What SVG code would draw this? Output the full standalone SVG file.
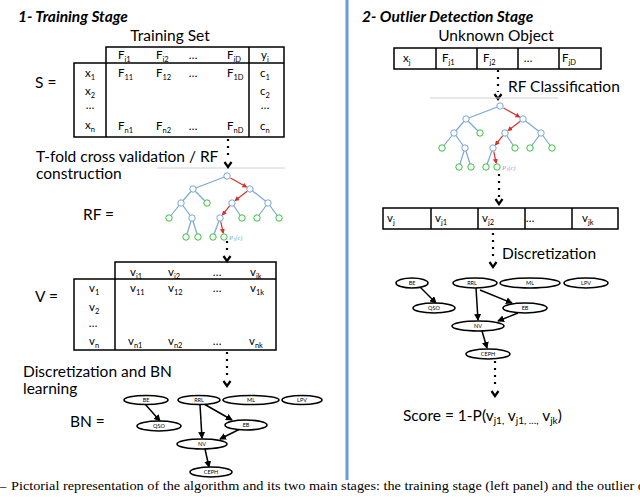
<svg xmlns="http://www.w3.org/2000/svg" xmlns:xlink="http://www.w3.org/1999/xlink" width="640" height="501" viewBox="0 0 640 501">
<style>
text{font-family:Lato,"Open Sans","Liberation Sans",sans-serif;fill:#000}
.title{font-size:15.5px;font-weight:bold;font-style:italic}
.big{font-size:15.5px}
.tb{font-size:11.5px}
.sb{font-size:7.5px}
.sbb{font-size:10px}
.box{fill:none;stroke:#000;stroke-width:1.5}
.dots{stroke:#000;stroke-width:2.2;stroke-dasharray:2 5;fill:none}
.chev{fill:none;stroke:#000;stroke-width:2.2;stroke-linejoin:miter}
.bl{stroke:#7aa6d8;stroke-width:1.2}
.rd{stroke:#d9302a;stroke-width:1.2;marker-end:url(#ra)}
.nb{fill:#fff;stroke:#7aa6d8;stroke-width:1}
.ng{fill:#fff;stroke:#3cc23c;stroke-width:1}
.ell{fill:#fff;stroke:#000;stroke-width:1.6}
.bnl{font-size:5.5px;text-anchor:middle}
.edge{stroke:#000;stroke-width:1.5;marker-end:url(#ba);fill:none}
.cap{font-family:"Liberation Serif","DejaVu Serif",serif;font-size:12.5px}
</style>
<defs>
<marker id="ra" markerWidth="5" markerHeight="5" refX="4" refY="2.5" orient="auto" markerUnits="userSpaceOnUse"><path d="M0,0 L5,2.5 L0,5 Z" fill="#d9302a"/></marker>
<marker id="ba" markerWidth="7" markerHeight="7" refX="6" refY="3.5" orient="auto" markerUnits="userSpaceOnUse"><path d="M0,0 L7,3.5 L0,7 Z" fill="#000"/></marker>
<path id="chev" class="chev" d="M-3.5,-5 L0,0 L3.5,-5"/>
<g id="rftree">
<line x1="-70" y1="-8" x2="58" y2="-8" stroke="#d0d0d0" stroke-width="1"/>
<line class="bl" x1="0" y1="0" x2="-34" y2="13"/>
<line class="bl" x1="-34" y1="13" x2="-46" y2="27"/>
<line class="bl" x1="-34" y1="13" x2="-20" y2="27"/>
<line class="bl" x1="-46" y1="27" x2="-58" y2="42"/>
<line class="bl" x1="-46" y1="27" x2="-35" y2="42"/>
<line class="bl" x1="-35" y1="42" x2="-41" y2="61"/>
<line class="bl" x1="-35" y1="42" x2="-29" y2="61"/>
<line class="bl" x1="23" y1="13" x2="41" y2="27"/>
<line class="bl" x1="5" y1="27" x2="15" y2="42"/>
<line class="bl" x1="41" y1="27" x2="30" y2="42"/>
<line class="bl" x1="41" y1="27" x2="52" y2="42"/>
<line class="bl" x1="-7" y1="42" x2="-14" y2="61"/>
<line class="rd" x1="3.5" y1="2" x2="19.5" y2="11"/>
<line class="rd" x1="20.2" y1="15.2" x2="8.2" y2="24.5"/>
<line class="rd" x1="2.8" y1="29.7" x2="-4.5" y2="38.9"/>
<line class="rd" x1="-6.3" y1="45.4" x2="-3.8" y2="57"/>
<circle class="nb" cx="0" cy="0" r="3.2"/>
<circle class="nb" cx="-34" cy="13" r="3.2"/>
<circle class="nb" cx="23" cy="13" r="3.2"/>
<circle class="nb" cx="-46" cy="27" r="3.2"/>
<circle class="ng" cx="-20" cy="27" r="3.2"/>
<circle class="nb" cx="5" cy="27" r="3.2"/>
<circle class="nb" cx="41" cy="27" r="3.2"/>
<circle class="ng" cx="-58" cy="42" r="3.2"/>
<circle class="nb" cx="-35" cy="42" r="3.2"/>
<circle class="nb" cx="-7" cy="42" r="3.2"/>
<circle class="ng" cx="15" cy="42" r="3.2"/>
<circle class="ng" cx="30" cy="42" r="3.2"/>
<circle class="ng" cx="52" cy="42" r="3.2"/>
<circle class="ng" cx="-41" cy="61" r="3.2"/>
<circle class="ng" cx="-29" cy="61" r="3.2"/>
<circle class="ng" cx="-14" cy="61" r="3.2"/>
<circle class="ng" cx="-3" cy="61" r="3.2"/>
<text x="2" y="63.5" style="font-family:'Liberation Serif',serif;font-style:italic;font-size:6.5px;fill:#7aa6d8">P<tspan dy="1.5" style="font-size:4.5px">1</tspan><tspan dy="-1.5">(c)</tspan></text>
</g>
</defs>

<!-- divider -->
<line x1="347" y1="0" x2="347" y2="480" stroke="#6b9bd2" stroke-width="3"/>

<!-- LEFT PANEL -->
<text class="title" x="18" y="22">1- Training Stage</text>
<text class="big" x="170" y="41" text-anchor="middle">Training Set</text>

<g id="table-S">
<text class="big" x="35" y="88">S =</text>
<path class="box" d="M106,137 V47 H284 V137 H74 V63 H284 M249,47 V137"/>
<g class="tb">
<text x="118" y="59">F<tspan class="sb" dy="2.5">i1</tspan></text>
<text x="156" y="59">F<tspan class="sb" dy="2.5">i2</tspan></text>
<text x="193" y="59" text-anchor="middle">…</text>
<text x="227" y="59">F<tspan class="sb" dy="2.5">iD</tspan></text>
<text x="261" y="59">y<tspan class="sb" dy="2.5">i</tspan></text>
<text x="85" y="77">x<tspan class="sb" dy="2.5">1</tspan></text>
<text x="85" y="95">x<tspan class="sb" dy="2.5">2</tspan></text>
<text x="90" y="109" text-anchor="middle">…</text>
<text x="85" y="129">x<tspan class="sb" dy="2.5">n</tspan></text>
<text x="118" y="77">F<tspan class="sb" dy="2.5">11</tspan></text>
<text x="156" y="77">F<tspan class="sb" dy="2.5">12</tspan></text>
<text x="193" y="77" text-anchor="middle">…</text>
<text x="227" y="77">F<tspan class="sb" dy="2.5">1D</tspan></text>
<text x="260" y="77">c<tspan class="sb" dy="2.5">1</tspan></text>
<text x="260" y="95">c<tspan class="sb" dy="2.5">2</tspan></text>
<text x="265" y="109" text-anchor="middle">…</text>
<text x="118" y="130">F<tspan class="sb" dy="2.5">n1</tspan></text>
<text x="156" y="130">F<tspan class="sb" dy="2.5">n2</tspan></text>
<text x="193" y="130" text-anchor="middle">…</text>
<text x="227" y="130">F<tspan class="sb" dy="2.5">nD</tspan></text>
<text x="260" y="130">c<tspan class="sb" dy="2.5">n</tspan></text>
</g>
</g>

<text class="big" x="36" y="162">T-fold cross validation / RF</text>
<text class="big" x="36" y="179">construction</text>
<text class="big" x="83" y="220">RF =</text>
<g id="tree-left"><use xlink:href="#rftree" transform="translate(227,176)"/></g>

<g id="table-V">
<text class="big" x="35" y="302">V =</text>
<path class="box" d="M115,350 V262 H276 V350 H74 V279 H276"/>
<g class="tb">
<text x="130" y="276">v<tspan class="sb" dy="2.5">i1</tspan></text>
<text x="168" y="276">v<tspan class="sb" dy="2.5">i2</tspan></text>
<text x="217" y="276" text-anchor="middle">…</text>
<text x="250" y="276">v<tspan class="sb" dy="2.5">ik</tspan></text>
<text x="89" y="292">v<tspan class="sb" dy="2.5">1</tspan></text>
<text x="89" y="311">v<tspan class="sb" dy="2.5">2</tspan></text>
<text x="93" y="327" text-anchor="middle">…</text>
<text x="89" y="345">v<tspan class="sb" dy="2.5">n</tspan></text>
<text x="130" y="292">v<tspan class="sb" dy="2.5">11</tspan></text>
<text x="168" y="292">v<tspan class="sb" dy="2.5">12</tspan></text>
<text x="217" y="292" text-anchor="middle">…</text>
<text x="250" y="292">v<tspan class="sb" dy="2.5">1k</tspan></text>
<text x="128" y="345">v<tspan class="sb" dy="2.5">n1</tspan></text>
<text x="168" y="345">v<tspan class="sb" dy="2.5">n2</tspan></text>
<text x="217" y="345" text-anchor="middle">…</text>
<text x="249" y="345">v<tspan class="sb" dy="2.5">nk</tspan></text>
</g>
</g>

<text class="big" x="23" y="377">Discretization and BN</text>
<text class="big" x="23" y="394">learning</text>
<text class="big" x="70" y="427">BN =</text>

<g id="connectors">
<line class="dots" x1="228" y1="139" x2="228" y2="160"/><use xlink:href="#chev" x="228" y="167"/>
<line class="dots" x1="227" y1="241" x2="227" y2="255"/><use xlink:href="#chev" x="227" y="261"/>
<line class="dots" x1="227" y1="352" x2="227" y2="379"/><use xlink:href="#chev" x="227" y="386"/>
<line class="dots" x1="498" y1="70" x2="498" y2="92"/><use xlink:href="#chev" x="498" y="99"/>
<line class="dots" x1="499" y1="174" x2="499" y2="197"/><use xlink:href="#chev" x="499" y="204"/>
<line class="dots" x1="493" y1="233" x2="493" y2="260"/><use xlink:href="#chev" x="493" y="267"/>
<line class="dots" x1="495" y1="361" x2="495" y2="389"/><use xlink:href="#chev" x="495" y="396"/>
<!-- BN left edges -->
<line class="edge" x1="145" y1="404" x2="160" y2="421"/>
<line class="edge" x1="200" y1="405" x2="202" y2="438"/>
<line class="edge" x1="204" y1="404" x2="232" y2="420"/>
<line class="edge" x1="240" y1="429" x2="220" y2="439"/>
<line class="edge" x1="205" y1="449" x2="209" y2="467"/>
<!-- BN right edges -->
<line class="edge" x1="420" y1="287" x2="436" y2="303"/>
<line class="edge" x1="476" y1="288" x2="478" y2="320"/>
<line class="edge" x1="480" y1="290" x2="512" y2="303"/>
<line class="edge" x1="518" y1="313" x2="498" y2="321"/>
<line class="edge" x1="482" y1="331" x2="487" y2="348"/>
</g>

<g id="bn-left">
<g id="bnl-BE"><ellipse class="ell" cx="146" cy="400" rx="22" ry="4.5"/><text class="bnl" x="146" y="402">BE</text></g>
<g id="bnl-RRL"><ellipse class="ell" cx="199" cy="400" rx="21" ry="4.5"/><text class="bnl" x="199" y="402">RRL</text></g>
<g id="bnl-ML"><ellipse class="ell" cx="251" cy="400" rx="28" ry="4.5"/><text class="bnl" x="251" y="402">ML</text></g>
<g id="bnl-LPV"><ellipse class="ell" cx="302" cy="400" rx="20" ry="4.5"/><text class="bnl" x="302" y="402">LPV</text></g>
<g id="bnl-QSO"><ellipse class="ell" cx="159" cy="426" rx="22" ry="5"/><text class="bnl" x="159" y="428">QSO</text></g>
<g id="bnl-EB"><ellipse class="ell" cx="246" cy="425" rx="21" ry="5"/><text class="bnl" x="246" y="427">EB</text></g>
<g id="bnl-NV"><ellipse class="ell" cx="202" cy="444" rx="25" ry="5"/><text class="bnl" x="202" y="446">NV</text></g>
<g id="bnl-CEPH"><ellipse class="ell" cx="211" cy="472" rx="21" ry="5"/><text class="bnl" x="211" y="474">CEPH</text></g>
</g>

<!-- RIGHT PANEL -->
<text class="title" x="362" y="22">2- Outlier Detection Stage</text>
<text class="big" x="496" y="41" text-anchor="middle">Unknown Object</text>
<g id="table-unknown">
<path class="box" d="M394,48 H601 V69 H394 Z M436,48 V69 M477,48 V69 M518,48 V69 M559,48 V69"/>
<g class="tb">
<text x="403" y="62">x<tspan class="sb" dy="2.5">j</tspan></text>
<text x="442" y="62">F<tspan class="sb" dy="2.5">j1</tspan></text>
<text x="483" y="62">F<tspan class="sb" dy="2.5">j2</tspan></text>
<text x="528" y="62" text-anchor="middle">…</text>
<text x="562" y="62">F<tspan class="sb" dy="2.5">jD</tspan></text>
</g>
</g>
<text class="big" x="508" y="92">RF Classification</text>
<g id="tree-right"><use xlink:href="#rftree" transform="translate(500,106)"/></g>

<g id="table-vj">
<path class="box" d="M383,208 H618 V229 H383 Z M431,208 V229 M478,208 V229 M525,208 V229 M572,208 V229"/>
<g class="tb">
<text x="387" y="222">v<tspan class="sb" dy="2.5">j</tspan></text>
<text x="435" y="222">v<tspan class="sb" dy="2.5">j1</tspan></text>
<text x="482" y="222">v<tspan class="sb" dy="2.5">j2</tspan></text>
<text x="530" y="222" text-anchor="middle">…</text>
<text x="582" y="222">v<tspan class="sb" dy="2.5">jk</tspan></text>
</g>
</g>
<text class="big" x="502" y="259">Discretization</text>

<g id="bn-right">
<g id="bnr-BE"><ellipse class="ell" cx="412" cy="283" rx="16" ry="5"/><text class="bnl" x="412" y="285">BE</text></g>
<g id="bnr-RRL"><ellipse class="ell" cx="475" cy="283" rx="22" ry="5"/><text class="bnl" x="472" y="285">RRL</text></g>
<g id="bnr-ML"><ellipse class="ell" cx="530" cy="283" rx="30" ry="5"/><text class="bnl" x="530" y="285">ML</text></g>
<g id="bnr-LPV"><ellipse class="ell" cx="586" cy="283" rx="22" ry="5"/><text class="bnl" x="586" y="285">LPV</text></g>
<g id="bnr-QSO"><ellipse class="ell" cx="434" cy="308" rx="21" ry="5"/><text class="bnl" x="434" y="310">QSO</text></g>
<g id="bnr-EB"><ellipse class="ell" cx="525" cy="308" rx="22" ry="5"/><text class="bnl" x="525" y="310">EB</text></g>
<g id="bnr-NV"><ellipse class="ell" cx="478" cy="326" rx="26" ry="5"/><text class="bnl" x="478" y="328">NV</text></g>
<g id="bnr-CEPH"><ellipse class="ell" cx="488" cy="354" rx="22" ry="5"/><text class="bnl" x="488" y="356">CEPH</text></g>
</g>

<text class="big" x="403" y="421">Score = 1-P(v<tspan class="sbb" dy="3">j1,</tspan><tspan dy="-3"> v</tspan><tspan class="sbb" dy="3">j1, …,</tspan><tspan dy="-3"> v</tspan><tspan class="sbb" dy="3">jk</tspan><tspan dy="-3">)</tspan></text>

<text class="cap" x="0" y="490">–</text>
<text class="cap" x="11" y="490" textLength="634" lengthAdjust="spacingAndGlyphs">Pictorial representation of the algorithm and its two main stages: the training stage (left panel) and the outlier d</text>
</svg>
